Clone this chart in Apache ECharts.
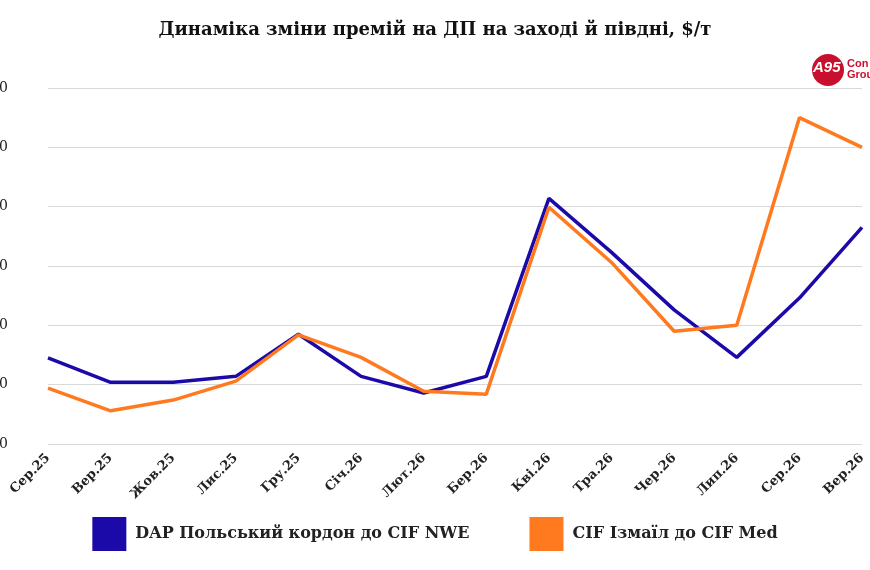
<!DOCTYPE html>
<html><head><meta charset="utf-8">
<script src="https://cdn.jsdelivr.net/npm/echarts@6/dist/echarts.min.js"></script>
<style>body{margin:0;background:#fff}#c{width:870px;height:570px}</style>
</head><body><div id="c"></div>
<script>
const months = ['Сер.25','Вер.25','Жов.25','Лис.25','Гру.25','Січ.26','Лют.26','Бер.26','Кві.26','Тра.26','Чер.26','Лип.26','Сер.26','Вер.26'];
const dapPoland = [14.5,10.4,10.4,11.4,18.5,11.4,8.6,11.4,41.4,32.3,22.6,14.6,24.6,36.5];
const cifIzmail = [9.4,5.6,7.4,10.6,18.4,14.6,8.9,8.4,39.9,30.6,19,20,55,50];

const font = 'DejaVu Serif';
const chart = echarts.init(document.getElementById('c'));
chart.setOption({
  title: { text: 'Динаміка зміни премій на ДП на заході й півдні, $/т', left: 'center', top: 16,
    textStyle: { fontFamily: font, fontSize: 18, fontWeight: 'bold', color: '#111' } },
  graphic: [
    { type: 'circle', shape: { cx: 828, cy: 70, r: 16 }, style: { fill: '#c8102e' } },
    { type: 'text', left: 813, top: 60, style: { text: 'A95', fill: '#fff', font: 'italic bold 15px sans-serif' } },
    { type: 'text', left: 847, top: 58, style: { text: 'Con\nGrou', fill: '#c8102e', font: 'bold 11px sans-serif', lineHeight: 11 } }
  ],
  legend: { bottom: 14, left: 'center', itemGap: 60, itemWidth: 34, itemHeight: 34, icon: 'rect',
    textStyle: { fontFamily: font, fontSize: 16, fontWeight: 'bold', color: '#222', padding: [0, 0, 0, 4] } },
  grid: { left: 48, right: 8, top: 88, bottom: 126, containLabel: false, outerBoundsMode: 'none' },
  xAxis: { type: 'category', data: months, boundaryGap: false,
    axisLine: { show: false }, axisTick: { show: false },
    axisLabel: { rotate: 45, interval: 0, fontFamily: font, fontWeight: 'bold', fontSize: 13, color: '#222', margin: 12 } },
  yAxis: { type: 'value', min: 0, max: 60, interval: 10,
    axisLine: { show: false }, axisTick: { show: false },
    splitLine: { lineStyle: { color: '#d9d9d9' } },
    axisLabel: { fontFamily: font, fontSize: 14, color: '#222', margin: 40, align: 'right' } },
  series: [
    { name: 'DAP Польський кордон до CIF NWE', type: 'line', data: dapPoland, symbol: 'none',
      lineStyle: { width: 3.5, color: '#1c0aa8' }, itemStyle: { color: '#1c0aa8' } },
    { name: 'CIF Ізмаїл до CIF Med', type: 'line', data: cifIzmail, symbol: 'none',
      lineStyle: { width: 3.5, color: '#ff7a1f' }, itemStyle: { color: '#ff7a1f' } }
  ]
});
</script></body></html>
